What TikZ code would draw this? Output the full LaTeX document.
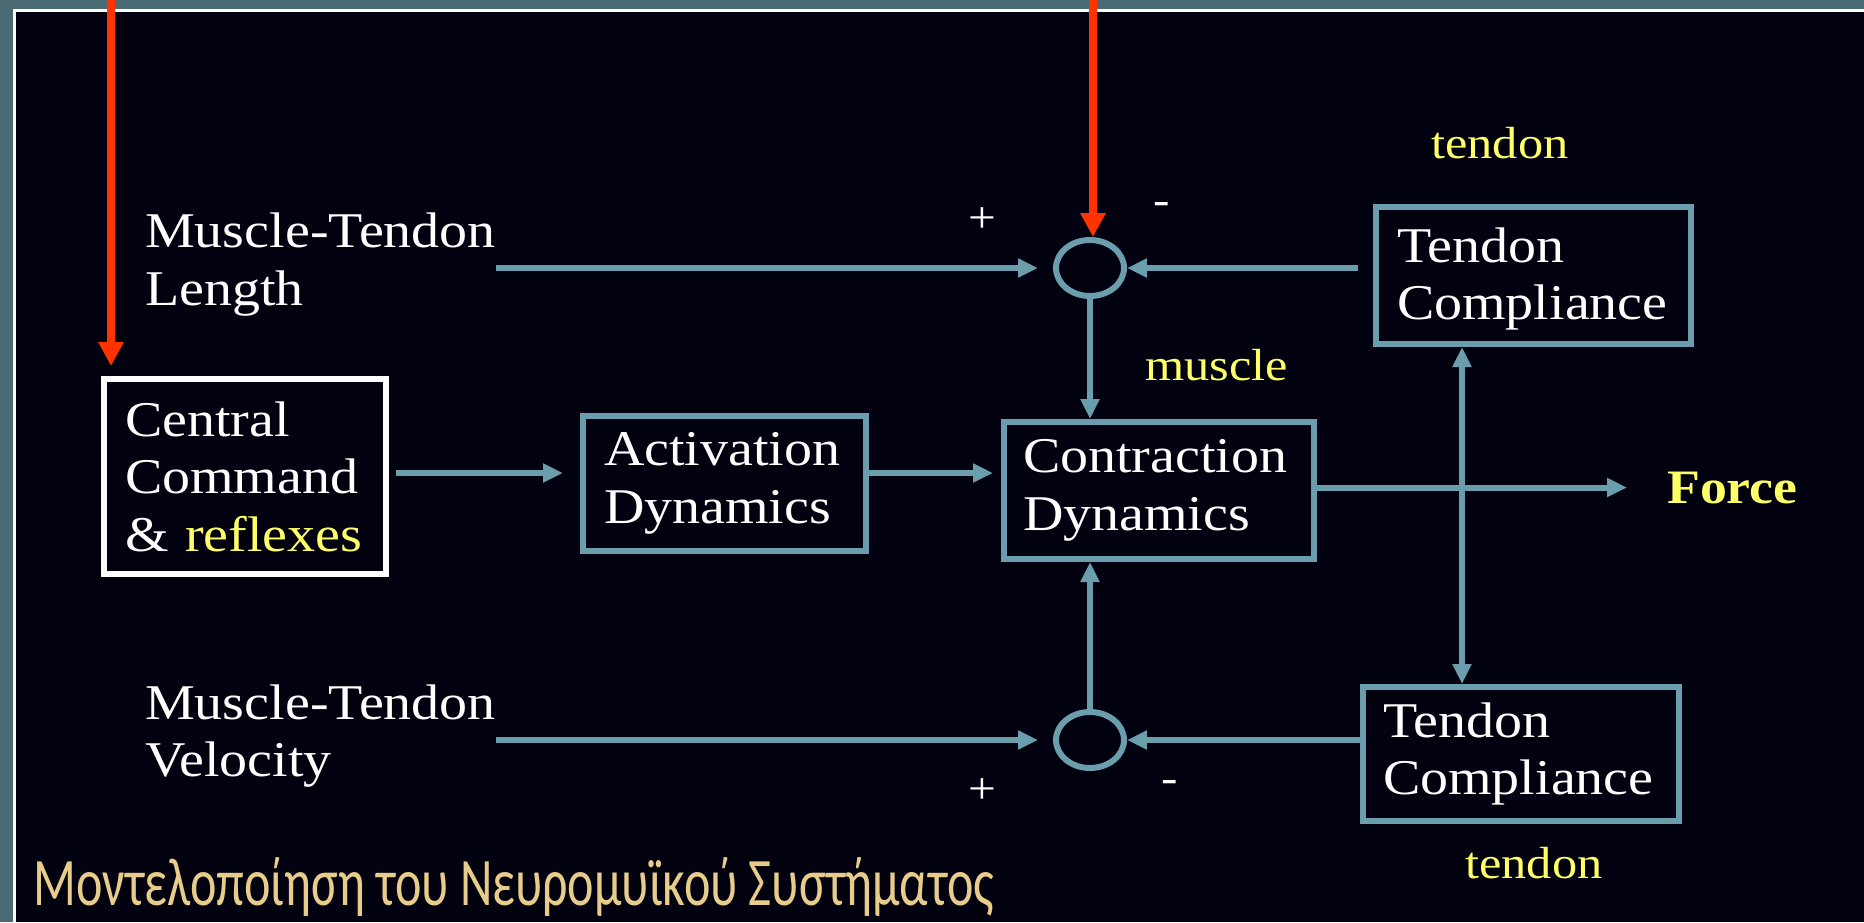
\documentclass[tikz,border=0pt]{standalone}
\usepackage{fontspec}
\usepackage{graphicx}
\setmainfont{Liberation Serif}[FakeStretch=1.12]
\newfontfamily\titlefont{Carlito}
\usetikzlibrary{arrows.meta,shapes.geometric}
\definecolor{bggrey}{RGB}{74,106,116}
\definecolor{bgblack}{RGB}{2,1,16}
\definecolor{teal}{RGB}{106,158,172}
\definecolor{hl}{RGB}{255,255,102}
\definecolor{titlecol}{RGB}{232,204,138}
\definecolor{redline}{RGB}{255,51,0}
\newcommand\bigtxt{\fontsize{50pt}{57.5pt}\selectfont}
\newcommand\labtxt{\fontsize{45pt}{52pt}\selectfont}
\begin{document}
\begin{tikzpicture}[x=1pt,y=-1pt,
  tbox/.style={draw=teal, line width=6pt, inner sep=0pt, align=left, text=white, font=\bigtxt},
  wbox/.style={tbox, draw=white},
  sumst/.style={ellipse, draw=teal, line width=6pt, minimum width=68pt, minimum height=56pt, inner sep=0pt},
  conn/.style={draw=teal, line width=6pt, -{Triangle[length=20pt,width=18pt]}},
  conn2/.style={draw=teal, line width=6pt, {Triangle[length=20pt,width=18pt]}-{Triangle[length=20pt,width=18pt]}},
  redarr/.style={draw=redline, line width=8pt, -{Triangle[length=24pt,width=24pt]}},
  lbl/.style={inner sep=0pt, text=white},
  yl/.style={inner sep=0pt, text=hl, font=\labtxt}]
\useasboundingbox (0,0) rectangle (1864,922);
\fill[bggrey] (0,0) rectangle (1864,922);
\fill[white] (13,9) rectangle (1864,922);
\fill[bgblack] (16,12) rectangle (1864,922);

% boxes
\node[wbox, minimum width=282pt, minimum height=195pt, text width=240pt] (cc) at (245,476.5) {Central\\Command\\\& \textcolor{hl}{reflexes}};
\node[tbox, minimum width=283pt, minimum height=135pt, text width=241pt] (act) at (724.5,483.5) {Activation\\Dynamics};
\node[tbox, minimum width=310pt, minimum height=137pt, text width=272pt] (con) at (1159,490.5) {Contraction\\Dynamics};
\node[tbox, minimum width=315pt, minimum height=137pt, text width=273pt] (tc1) at (1533.5,275.5) {\rule{0pt}{42pt}Tendon\\Compliance};
\node[tbox, minimum width=316pt, minimum height=134pt, text width=276pt] (tc2) at (1521,754) {Tendon\\Compliance};

% summing junctions
\node[sumst] (s1) at (1090,268) {};
\node[sumst] (s2) at (1090,740) {};

% inputs
\node[lbl, font=\bigtxt, align=left, anchor=west] (mtl) at (145,264.5) {Muscle-Tendon\\Length};
\node[lbl, font=\bigtxt, align=left, anchor=west] (mtv) at (145,736) {Muscle-Tendon\\Velocity};

% labels
\node[lbl, font=\fontsize{44pt}{50pt}\selectfont, anchor=base] (p1) at (982,232) {+};
\node[lbl, font=\fontsize{44pt}{50pt}\selectfont, anchor=base] (m1) at (1162,214) {-};
\node[lbl, font=\fontsize{44pt}{50pt}\selectfont, anchor=base] (p2) at (982,803) {+};
\node[lbl, font=\fontsize{44pt}{50pt}\selectfont, anchor=base] (m2) at (1170,792) {-};
\node[yl, anchor=base west] (mus) at (1145,380) {muscle};
\node[yl, anchor=base west] (tn1) at (1431,158) {tendon};
\node[yl, anchor=base west] (tn2) at (1465,878) {tendon};
\node[yl, anchor=base west, font=\fontsize{48pt}{55pt}\selectfont\bfseries] (force) at (1667,503) {Force};

\node[anchor=base west, inner sep=0pt, text=titlecol] (title) at (33,905) {\titlefont\fontsize{68pt}{80pt}\selectfont\resizebox{961pt}{\height}{Μοντελοποίηση του Νευρομυϊκού Συστήματος}};

% connectors
\coordinate (r1) at (0,473);
\draw[conn, shorten <=7pt, shorten >=17pt] (cc.east |- r1) -- (act.west |- r1);
\draw[conn, shorten >=8pt] (act.east |- r1) -- (con.west |- r1);
\draw[conn, shorten >=40pt] (con.east |- force.west) -- (force.west);
\draw[conn, shorten >=15pt] (mtl.east |- s1) -- (s1.west);
\draw[conn, shorten <=15pt] (tc1.west |- s1) -- (s1.east);
\draw[conn] (s1.south) -- (s1.south |- con.north);
\draw[conn] (s2.north) -- (s2.north |- con.south);
\draw[conn, shorten >=15pt] (mtv.east |- s2) -- (s2.west);
\draw[conn] (tc2.west |- s2) -- (s2.east);
\coordinate (vx) at (1462,0);
\draw[conn2] (vx |- tc1.south) -- (vx |- tc2.north);

% red arrows
\coordinate (ra) at (111,0);
\coordinate (rb) at (1093,0);
\draw[redarr, shorten >=10pt] (ra) -- (ra |- cc.north);
\draw[redarr] (rb) -- (rb |- s1.north);
\end{tikzpicture}
\end{document}
